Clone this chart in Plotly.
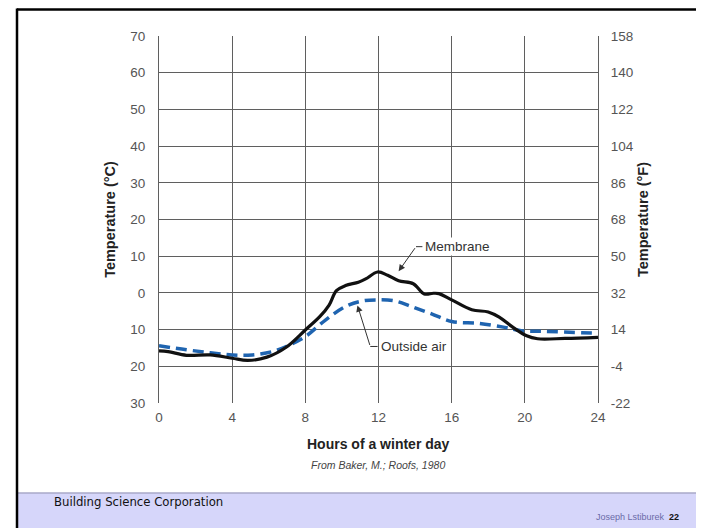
import plotly.graph_objects as go

# ---- data ----
hours_membrane = [0, 0.5, 1.5, 2.8, 4.0, 4.85, 5.9, 6.95, 8.0, 8.8, 9.3, 9.7, 10.2, 10.9, 11.3,
                  11.95, 12.5, 13.1, 13.9, 14.5, 15.0, 15.3, 16.0, 17.1, 18.0, 18.6, 19.3, 20.1,
                  20.7, 22.2, 24]
temp_membrane = [-15.8, -16.0, -17.0, -16.9, -17.8, -18.4, -17.5, -14.8, -10.1, -6.4, -3.3, 0.6,
                 2.0, 2.9, 3.8, 5.7, 4.8, 3.3, 2.5, -0.3, -0.1, -0.2, -1.9, -4.6, -5.2, -6.6,
                 -9.2, -11.7, -12.5, -12.4, -12.1]
hours_air = [0, 1.5, 2.8, 4.0, 5.1, 6.2, 6.95, 8.0, 9.1, 10.2, 11.1, 11.9, 12.9, 13.8, 14.9,
             16.0, 17.5, 18.9, 19.8, 21.1, 24]
temp_air = [-14.4, -15.5, -16.3, -16.9, -16.9, -16.0, -14.6, -11.9, -7.4, -3.7, -2.2, -1.9,
            -2.2, -3.7, -5.7, -7.8, -8.3, -9.4, -10.3, -10.5, -11.0]

x_ticks = [0, 4, 8, 12, 16, 20, 24]
c_ticks = [70, 60, 50, 40, 30, 20, 10, 0, -10, -20, -30]
c_ticklabels = [str(abs(v)) for v in c_ticks]
f_ticks = [158, 140, 122, 104, 86, 68, 50, 32, 14, -4, -22]
f_ticklabels = [str(v) for v in f_ticks]

# annotation anchor points (data coords)
membrane_tip = (13.1, 5.9)
membrane_bend = (14.05, 12.6)
membrane_text = (14.45, 12.6)
air_tip = (10.85, -3.4)
air_bend = (11.55, -14.6)
air_text = (12.0, -14.6)

# page body has an 8px margin: figure is drawn 8px right/down of the window origin
OFF = 8
FW, FH = 704 - OFF, 528 - OFF
# plot area in window pixels
L, R, T, B = 159, 598, 36, 403

FONT = "Liberation Sans, Arial, Helvetica, sans-serif"

fig = go.Figure()
fig.add_trace(go.Scatter(x=hours_air, y=temp_air, mode="lines", line_shape="spline",
                         line=dict(color="#1f64b0", width=3.5, dash="11px,6px"),
                         showlegend=False, hoverinfo="skip"))
fig.add_trace(go.Scatter(x=hours_membrane, y=temp_membrane, mode="lines", line_shape="spline",
                         line=dict(color="#111111", width=3.2), showlegend=False, hoverinfo="skip"))
# invisible trace for right axis
fig.add_trace(go.Scatter(x=[0], y=[32], yaxis="y2", mode="markers", marker=dict(opacity=0),
                         showlegend=False, hoverinfo="skip"))

tickfont = dict(family=FONT, size=13.5, color="#555555")
titlefont = dict(family=FONT, size=14.5, color="#222")
fig.update_layout(
    width=FW, height=FH,
    margin=dict(l=L - OFF, r=FW - (R - OFF), t=T - OFF, b=FH - (B - OFF), pad=0),
    paper_bgcolor="white", plot_bgcolor="white",
    xaxis=dict(range=[0, 24], tickvals=x_ticks, showgrid=True, gridcolor="#5f5f5f", gridwidth=1,
               zeroline=False, showline=False, ticks="", tickfont=tickfont, ticklabelstandoff=4),
    yaxis=dict(range=[-30, 70], tickvals=c_ticks, ticktext=c_ticklabels, showgrid=True,
               gridcolor="#5f5f5f", gridwidth=1, zeroline=False, showline=True,
               linecolor="#5f5f5f", linewidth=1, ticks="", tickfont=tickfont, ticklabelstandoff=10,
               title=dict(text="<b>Temperature (°C)</b>", standoff=11, font=titlefont)),
    yaxis2=dict(range=[-22, 158], tickvals=f_ticks, ticktext=f_ticklabels, overlaying="y",
                side="right", showgrid=False, zeroline=False, showline=True, linecolor="#5f5f5f",
                linewidth=1, ticks="", tickfont=tickfont, ticklabelstandoff=9,
                title=dict(text="<b>Temperature (°F)</b>", standoff=5, font=titlefont)),
)


def px(x):
    return (x - L) / (R - L)


def py(y):
    return (B - y) / (B - T)


# leader lines with arrowheads
for tip, bend, txt in [(membrane_tip, membrane_bend, membrane_text), (air_tip, air_bend, air_text)]:
    fig.add_shape(type="line", xref="x", yref="y", x0=bend[0], y0=bend[1], x1=txt[0] - 0.05,
                  y1=txt[1], line=dict(color="#333333", width=1))
    fig.add_annotation(x=tip[0], y=tip[1], ax=bend[0], ay=bend[1], axref="x", ayref="y",
                       xref="x", yref="y", text="", showarrow=True, arrowhead=2, arrowsize=1.3,
                       arrowwidth=1, arrowcolor="#333333")

fig.add_annotation(x=membrane_text[0], y=membrane_text[1], xref="x", yref="y", text="Membrane",
                   showarrow=False, xanchor="left", yanchor="middle", bgcolor="white",
                   font=dict(family=FONT, size=13.5, color="#333"))
fig.add_annotation(x=air_text[0], y=air_text[1], xref="x", yref="y", text="Outside air",
                   showarrow=False, xanchor="left", yanchor="middle", bgcolor="white",
                   font=dict(family=FONT, size=13.5, color="#333"))

# x-axis title and source
fig.add_annotation(x=px(378), y=py(444), xref="paper", yref="paper",
                   text="<b>Hours of a winter day</b>", showarrow=False, yanchor="middle",
                   font=dict(family=FONT, size=14, color="#222"))
fig.add_annotation(x=px(378), y=py(465), xref="paper", yref="paper",
                   text="<i>From Baker, M.; Roofs, 1980</i>", showarrow=False, yanchor="middle",
                   font=dict(family=FONT, size=10.5, color="#444"))

# slide frame and footer band
fig.add_shape(type="rect", xref="paper", yref="paper", x0=px(17), x1=px(706), y0=py(493),
              y1=py(530), fillcolor="#d6d6fa", line=dict(width=0), layer="below")
fig.add_shape(type="line", xref="paper", yref="paper", x0=px(17), x1=px(706), y0=py(493),
              y1=py(493), line=dict(color="#a8a8c8", width=1.5))
fig.add_shape(type="line", xref="paper", yref="paper", x0=px(17), x1=px(706), y0=py(9.5),
              y1=py(9.5), line=dict(color="black", width=2.5))
fig.add_shape(type="line", xref="paper", yref="paper", x0=px(17), x1=px(17), y0=py(8.5),
              y1=py(530), line=dict(color="black", width=2.5))

fig.add_annotation(x=px(52), y=py(502), xref="paper", yref="paper",
                   text="Building Science Corporation", showarrow=False, xanchor="left",
                   yanchor="middle", font=dict(family="DejaVu Sans, Verdana, sans-serif", size=11.7,
                                               color="#111"))
fig.add_annotation(x=px(681), y=py(517), xref="paper", yref="paper",
                   text="<span style='color:#6a6aa8'>Joseph Lstiburek</span>  <b>22</b>",
                   showarrow=False, xanchor="right", yanchor="middle",
                   font=dict(family=FONT, size=9, color="#111"))

fig.write_html("out.html")
